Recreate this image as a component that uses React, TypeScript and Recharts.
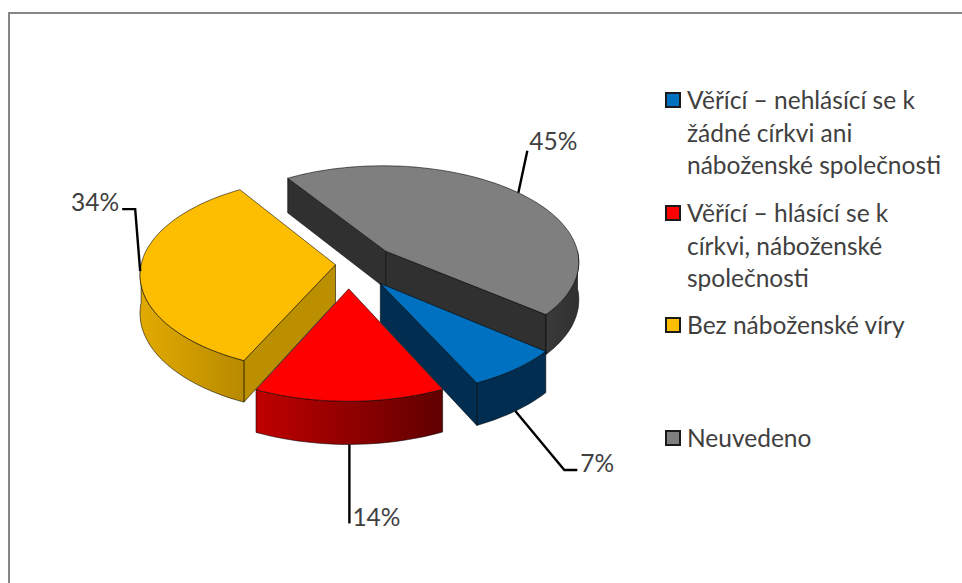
import { PieChart, Pie, Legend } from 'recharts'

const CATEGORIES = [
  ['Věřící – nehlásící se k', 'žádné církvi ani', 'náboženské společnosti'],
  ['Věřící – hlásící se k', 'církvi, náboženské', 'společnosti'],
  ['Bez náboženské víry'],
  ['Neuvedeno'],
]
const VALUES = [7, 14, 34, 45]
const COLORS = ['#0070C0', '#FF0000', '#FDBD00', '#7F7F7F']

// slices are painted in this order so the front ones cover the back ones
const DRAW_ORDER = [2, 3, 0, 1]
const EXPLODE = [0.2, 0.2, 0.09, 0.25]
const TIP_NUDGE = [
  [0.03, 0],
  [-0.007, -0.01],
  [0.015, 0.04],
  [0, 0.01],
]
const CUT_COLORS = ['#002D50', '#800000', '#BC8F00', '#303030']
const RIM_COLORS = [
  ['#002D50', '#002D50'],
  ['#C00000', '#600000'],
  ['#E2AA00', '#B88A00'],
  ['#3A3A3A', '#303030'],
]
// leader line bends, relative to the point on the rim
const LEADERS = [
  [[0, 0], [49, 59], [62, 59]],
  [[0, 0], [0, 79]],
  [[0, 0], [-5, -62], [-18, -62]],
  [[0, 0], [9, -42]],
]
const LABEL_POS = [
  { dx: 65, dy: 51, anchor: 'start' },
  { dx: 3, dy: 72, anchor: 'start' },
  { dx: -21, dy: -70, anchor: 'end' },
  { dx: 11, dy: -52, anchor: 'start' },
]
const LEGEND_TOPS = [84, 197, 309, 422]

const WIDTH = 962
const HEIGHT = 583
const CX = 350
const CY = 268
const RX = 195
const RY = 97
const PERSPECTIVE = 0.0986
const DEPTH = 38
const RAD = Math.PI / 180

const pieData = DRAW_ORDER.map(i => ({ name: CATEGORIES[i].join(' '), value: VALUES[i] }))

// maps a point of the flat disc (radius 1) on to the tilted view
function project(u: number, v: number, down = false) {
  const w = 1 / (1 + PERSPECTIVE * v)
  return {
    x: CX + RX * u * w,
    y: CY - RY * v * w + (down ? DEPTH * w : 0),
  }
}

function tipOf(slice: number, midAngle: number) {
  return {
    u: EXPLODE[slice] * Math.cos(midAngle * RAD) + TIP_NUDGE[slice][0],
    v: EXPLODE[slice] * Math.sin(midAngle * RAD) + TIP_NUDGE[slice][1],
  }
}

function rimPoint(tip: { u: number; v: number }, angle: number, down = false) {
  return project(tip.u + Math.cos(angle * RAD), tip.v + Math.sin(angle * RAD), down)
}

function toPath(points: { x: number; y: number }[]) {
  return points.map((p, i) => `${i ? 'L' : 'M'}${p.x.toFixed(1)},${p.y.toFixed(1)}`).join(' ') + ' Z'
}

function arcAngles(from: number, to: number) {
  const out: number[] = []
  const steps = Math.max(2, Math.ceil(Math.abs(from - to) / 2))
  for (let i = 0; i <= steps; i++) out.push(from + ((to - from) * i) / steps)
  return out
}

function Slice3D(props: any) {
  const { startAngle, endAngle, midAngle, index } = props
  const slice = DRAW_ORDER[index]
  const tip = tipOf(slice, midAngle)
  const tipTop = project(tip.u, tip.v)
  const tipDown = project(tip.u, tip.v, true)
  const gradId = `rim-${slice}`

  const cutFace = (angle: number) => (
    <path
      d={toPath([tipTop, rimPoint(tip, angle), rimPoint(tip, angle, true), tipDown])}
      fill={CUT_COLORS[slice]}
      stroke="#000"
      strokeOpacity={0.7}
      strokeWidth={0.8}
    />
  )
  const showStartCut = Math.sin((startAngle + 90) * RAD) < 0
  const showEndCut = Math.sin((endAngle - 90) * RAD) < 0

  // the part of the rim turned to the viewer lies where sin(angle) < 0
  const rims: string[] = []
  for (const hi of [0, -360]) {
    const from = Math.min(startAngle, hi)
    const to = Math.max(endAngle, hi - 180)
    if (from <= to) continue
    const angles = arcAngles(from, to)
    rims.push(
      toPath([
        ...angles.map(a => rimPoint(tip, a)),
        ...angles.slice().reverse().map(a => rimPoint(tip, a, true)),
      ]),
    )
  }
  const topPath = toPath([tipTop, ...arcAngles(startAngle, endAngle).map(a => rimPoint(tip, a))])

  return (
    <g>
      <defs>
        <linearGradient id={gradId} x1="0" y1="0" x2="1" y2="0">
          <stop offset="0%" stopColor={RIM_COLORS[slice][0]} />
          <stop offset="100%" stopColor={RIM_COLORS[slice][1]} />
        </linearGradient>
      </defs>
      {showStartCut && cutFace(startAngle)}
      {showEndCut && cutFace(endAngle)}
      {rims.map(d => (
        <path key={d} d={d} fill={`url(#${gradId})`} stroke="#000" strokeOpacity={0.7} strokeWidth={0.8} />
      ))}
      <path d={topPath} fill={COLORS[slice]} stroke="#000" strokeOpacity={0.7} strokeWidth={0.8} />
    </g>
  )
}

function SliceLabel(props: any) {
  const { midAngle, percent, index } = props
  const slice = DRAW_ORDER[index]
  const tip = tipOf(slice, midAngle)
  const onFront = Math.sin(midAngle * RAD) < -0.3
  const start = rimPoint(tip, midAngle, onFront)
  const pts = LEADERS[slice].map(([dx, dy]) => `${start.x + dx},${start.y + dy}`).join(' ')
  const pos = LABEL_POS[slice]
  return (
    <g>
      <polyline points={pts} fill="none" stroke="#000" strokeWidth={2.4} />
      <text
        x={start.x + pos.dx}
        y={start.y + pos.dy}
        textAnchor={pos.anchor as any}
        dominantBaseline="central"
        fontFamily="Lato"
        fontSize={24.5}
        fill="#404040"
      >
        {Math.round(percent * 100)}%
      </text>
    </g>
  )
}

function ChartLegend() {
  return (
    <div style={{ position: 'relative', width: 290, height: 400, fontFamily: 'Lato', fontSize: 24.5, color: '#404040', lineHeight: '32.5px' }}>
      {CATEGORIES.map((lines, i) => (
        <div key={i} style={{ position: 'absolute', left: 0, top: LEGEND_TOPS[i] - 70 }}>
          <span
            style={{
              position: 'absolute',
              left: 0,
              top: 8,
              width: 12,
              height: 12,
              background: COLORS[i],
              border: '2px solid #1a1a1a',
            }}
          />
          <div style={{ marginLeft: 22, whiteSpace: 'nowrap' }}>
            {lines.map(l => (
              <div key={l}>{l}</div>
            ))}
          </div>
        </div>
      ))}
    </div>
  )
}

export default function App() {
  return (
    <div style={{ position: 'absolute', left: 0, top: 0, width: WIDTH, height: HEIGHT, overflow: 'hidden', background: '#fff' }}>
      <div
        style={{
          position: 'absolute',
          left: 8,
          top: 12,
          width: WIDTH,
          height: HEIGHT,
          borderTop: '2px solid #868686',
          borderLeft: '2px solid #868686',
        }}
      />
      <div style={{ position: 'absolute', left: 0, top: 0 }}>
        <PieChart width={WIDTH} height={HEIGHT} margin={{ top: 0, right: 0, bottom: 0, left: 0 }}>
          <Pie
            data={pieData}
            dataKey="value"
            nameKey="name"
            cx={CX}
            cy={CY}
            outerRadius={100}
            startAngle={-115}
            endAngle={-475}
            stroke="none"
            shape={Slice3D}
            label={SliceLabel}
            labelLine={false}
            isAnimationActive={false}
          />
          <Legend content={ChartLegend} wrapperStyle={{ left: 665, top: 70, width: 290 }} />
        </PieChart>
      </div>
    </div>
  )
}
